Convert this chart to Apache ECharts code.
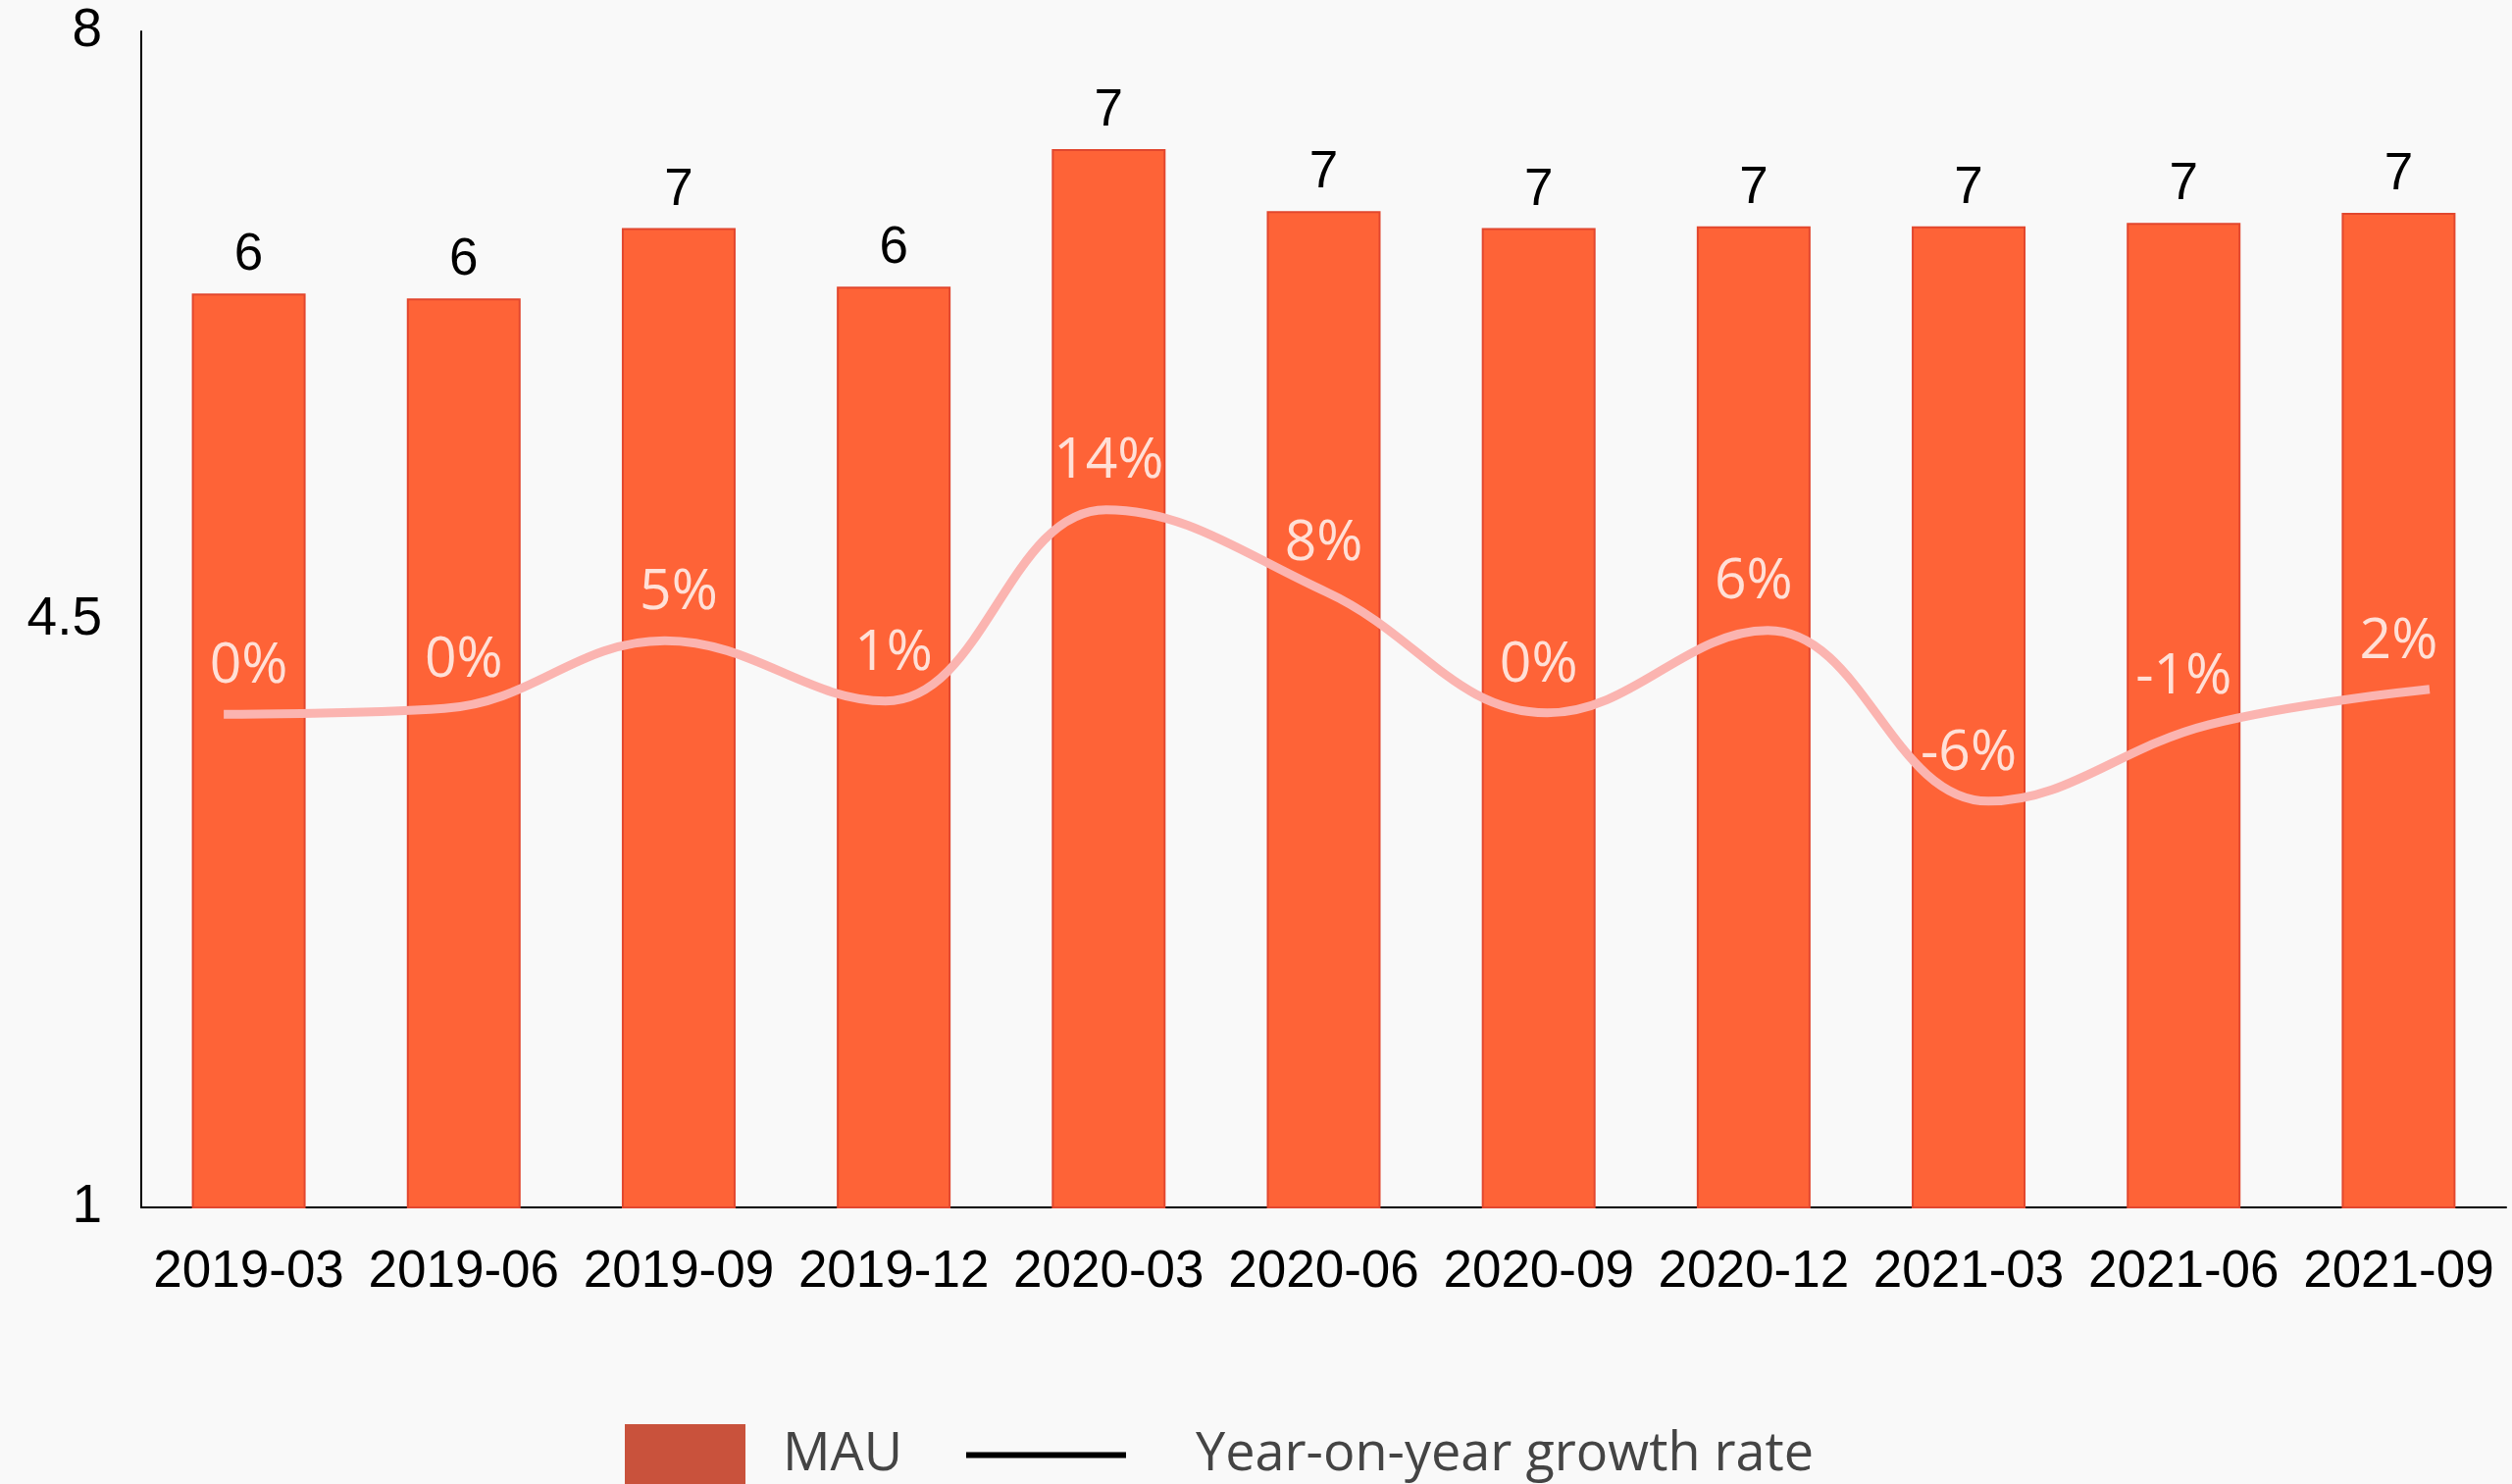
<!DOCTYPE html>
<html>
<head>
<meta charset="utf-8">
<title>MAU</title>
<script src="https://cdn.jsdelivr.net/npm/echarts@6/dist/echarts.min.js"></script>
<style>
  html, body { margin: 0; padding: 0; background: #f9f9f9; }
  #main { width: 2561px; height: 1513px; }
</style>
</head>
<body>
<div id="main"></div>
<script>
const quarters = ['2019-03', '2019-06', '2019-09', '2019-12', '2020-03', '2020-06', '2020-09', '2020-12', '2021-03', '2021-06', '2021-09']
const mau = [6.44, 6.41, 6.83, 6.48, 7.30, 6.93, 6.83, 6.84, 6.84, 6.86, 6.92]
const growth = [0.000, 0.004, 0.050, 0.009, 0.139, 0.083, 0.001, 0.057, -0.059, -0.007, 0.017]
const yTicks = [1, 4.5, 8]

const blackFont = 'Liberation Sans, Arial, sans-serif'
const lightFont = 'Open Sans, Noto Sans, sans-serif'

let chart = echarts.init(document.getElementById('main'))
let option = {
  backgroundColor: '#f9f9f9',
  animation: false,
  grid: { left: 144, right: 6, top: 32, bottom: 282 },
  legend: [
    {
      left: 632,
      top: 1447,
      itemWidth: 123,
      itemHeight: 63,
      textStyle: { fontSize: 54, color: '#444', fontFamily: lightFont, lineHeight: 63, padding: [0, 0, 0, 33] },
      data: [{ name: 'MAU', icon: 'rect', itemStyle: { color: '#c9523c', borderWidth: 0 } }],
    },
    {
      left: 980,
      top: 1447,
      itemWidth: 163,
      itemHeight: 6,
      textStyle: { fontSize: 54, color: '#444', fontFamily: lightFont, lineHeight: 63, padding: [0, 0, 0, 66] },
      data: [{ name: 'Year-on-year growth rate', icon: 'rect', itemStyle: { color: '#000', borderWidth: 0 } }],
    },
  ],
  xAxis: [
    {
      type: 'category',
      data: quarters,
      axisLine: { onZero: false, lineStyle: { color: '#000', width: 2 } },
      axisTick: { show: false },
      axisLabel: { interval: 0, color: '#000', fontSize: 53, fontFamily: blackFont, margin: 40 },
    },
    {
      // the growth line is drawn slightly wider than the bar bands
      type: 'value',
      show: false,
      min: -0.374,
      max: 10.347,
    },
  ],
  yAxis: [
    {
      type: 'value',
      min: 1,
      max: 8,
      splitLine: { show: false },
      axisLine: { show: true, onZero: false, lineStyle: { color: '#000', width: 2 } },
      axisTick: { show: false },
      axisLabel: { customValues: yTicks, color: '#000', fontSize: 55, fontFamily: blackFont, margin: 40 },
    },
    {
      type: 'value',
      show: false,
      min: -0.335,
      max: 0.464,
    },
  ],
  series: [
    {
      name: 'MAU',
      type: 'bar',
      barWidth: 116,
      data: mau,
      itemStyle: { color: '#fe6337', borderColor: '#e2472e', borderWidth: 2 },
      label: {
        show: true,
        position: 'top',
        distance: 12,
        color: '#000',
        fontSize: 53,
        fontFamily: blackFont,
        formatter: (p) => Math.round(p.value),
      },
    },
    {
      name: 'Year-on-year growth rate',
      type: 'line',
      xAxisIndex: 1,
      yAxisIndex: 1,
      smooth: 0.4,
      showSymbol: false,
      data: growth.map((v, i) => [i, v]),
      lineStyle: { color: '#fbb4b0', width: 9, cap: 'butt' },
      z: 3,
    },
    {
      // percentage labels sit over the bar centres
      type: 'scatter',
      xAxisIndex: 0,
      yAxisIndex: 1,
      symbolSize: 0,
      silent: true,
      data: growth,
      label: {
        show: true,
        position: 'top',
        distance: 20,
        color: '#fff',
        fontSize: 57,
        fontFamily: lightFont,
        formatter: (p) => Math.round(p.value * 100) + '%',
      },
      z: 5,
    },
  ],
}
chart.setOption(option)
window.addEventListener('resize', () => {
  chart.resize()
})
</script>
</body>
</html>
